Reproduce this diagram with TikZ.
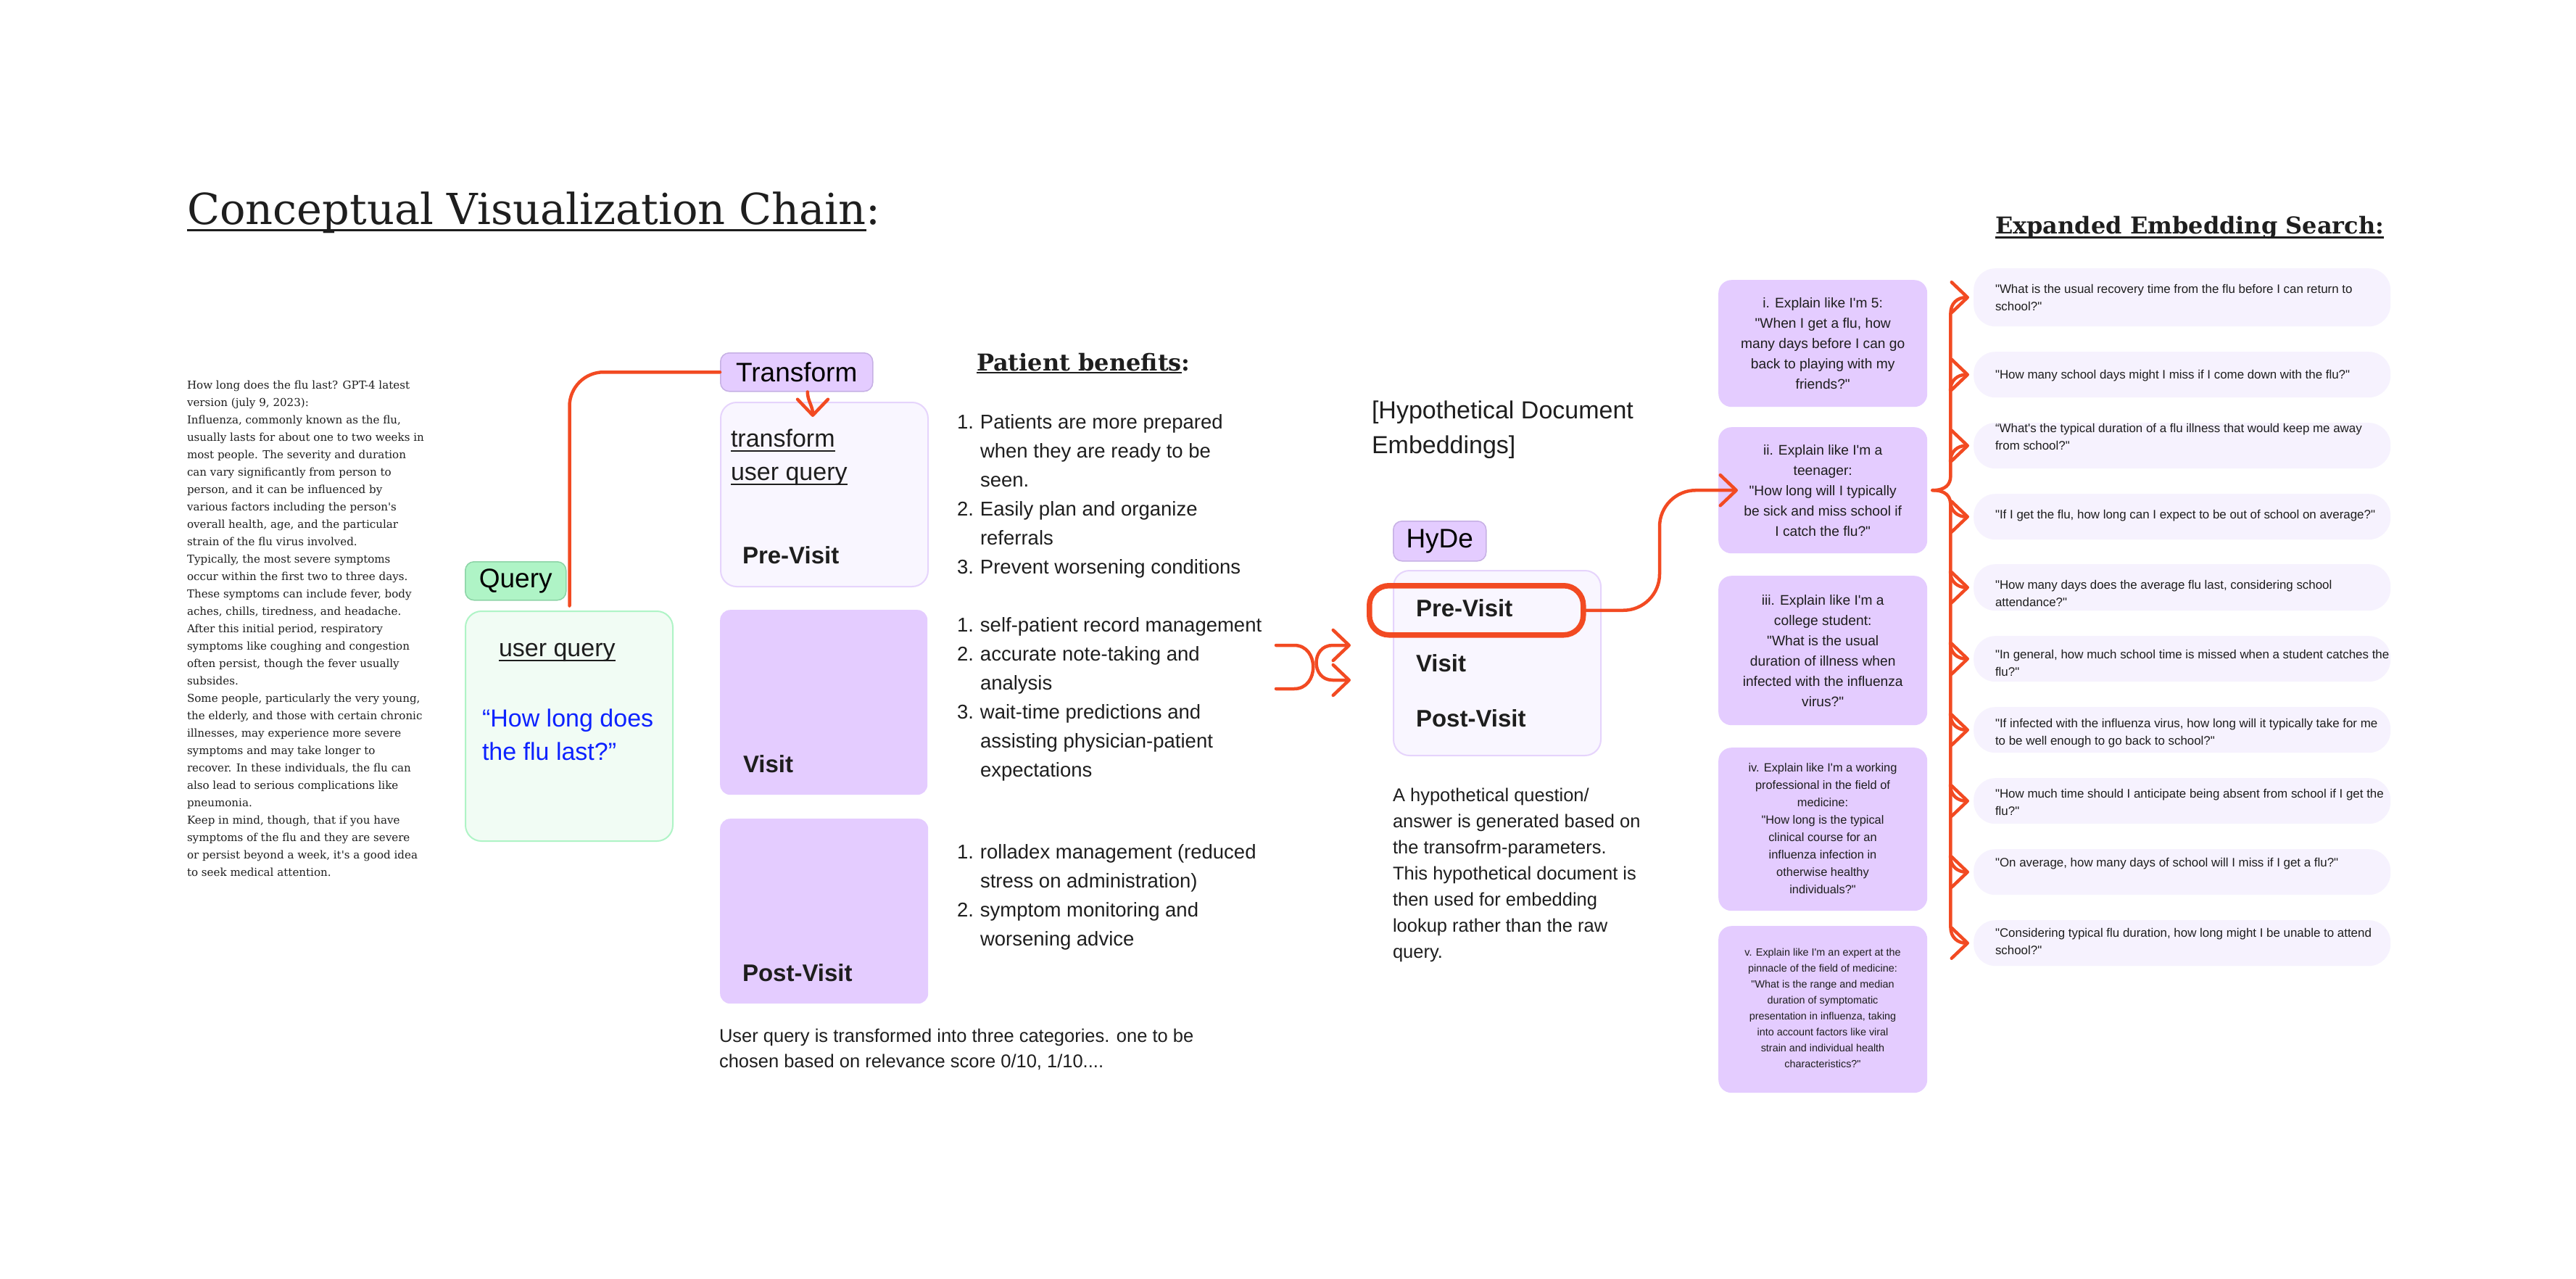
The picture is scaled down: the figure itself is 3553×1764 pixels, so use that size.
\documentclass[tikz,border=0pt]{standalone}
\usepackage{fontspec}
\setmainfont{DejaVu Serif}[Ligatures=TeXOff]
\setsansfont{Liberation Sans}[Ligatures=TeXOff]
\usetikzlibrary{arrows.meta}
\definecolor{ink}{RGB}{30,30,30}
\definecolor{org}{RGB}{242,74,34}
\definecolor{vio}{RGB}{228,204,255}
\definecolor{viob}{RGB}{198,176,228}
\definecolor{pale}{RGB}{249,246,255}
\definecolor{paleb}{RGB}{230,212,252}
\definecolor{rbox}{RGB}{246,242,254}
\definecolor{grn}{RGB}{175,244,198}
\definecolor{grnb}{RGB}{140,212,166}
\definecolor{grnpale}{RGB}{241,252,244}
\definecolor{blu}{RGB}{13,34,255}
\newcommand\ulin[3]{\leavevmode\setbox0\hbox{#3}\rlap{\vrule width\wd0 height -#1 depth \dimexpr#1+#2\relax}\box0}
\newcommand\nb[1]{\makebox[32pt][l]{#1}}
\begin{document}
\begin{tikzpicture}[x=1pt,y=-1pt,
  >={Straight Barb[length=22pt,width=42pt,round]},
  tx/.style={inner sep=0pt, outer sep=0pt, text=ink},
  fs/.style 2 args={font=\sffamily\fontsize{#1}{#2}\selectfont},
  fb/.style 2 args={font=\sffamily\bfseries\fontsize{#1}{#2}\selectfont},
  conn/.style={draw=org, line width=4.5pt, line cap=round, line join=round},
  vtag/.style={draw=viob, fill=vio, line width=1.5pt, rounded corners=12pt, inner sep=0pt, text=black, fs={37}{44}, anchor=north west},
  qtag/.style={draw=grnb, fill=grn, line width=1.5pt, rounded corners=12pt, inner sep=0pt, text=black, fs={37}{44}, anchor=north west},
  qbox/.style={draw=grn, fill=grnpale, line width=2pt, rounded corners=22pt, inner sep=0pt, anchor=north west},
  pbox/.style={draw=paleb, fill=pale, line width=2pt, rounded corners=22pt, inner sep=0pt, anchor=north west},
  vbox/.style={fill=vio, rounded corners=14pt, inner sep=0pt, anchor=north west},
  ebox/.style={fill=vio, rounded corners=18pt, inner sep=0pt, anchor=north west, minimum width=288pt},
  rbx/.style={fill=rbox, rounded corners=30pt, inner sep=0pt, anchor=north west, minimum width=575pt},
  hl/.style={draw=org, line width=7.5pt, rounded corners=27pt, inner sep=0pt, anchor=north west},
]
\useasboundingbox[fill=white] (0,0) rectangle (3553,1764);

% ---------- title ----------
\node[tx, font=\rmfamily\fontsize{59}{70}\selectfont, anchor=base west] (title) at (258,309)
  {\ulin{7pt}{3pt}{Conceptual Visualization Chain}:};

% ---------- GPT-4 answer (anchored at the baseline of its last line) ----------
\node[tx, font=\rmfamily\fontsize{15.1}{24}\selectfont, align=left, anchor=base west] (gpt) at (258,1208) {%
How long does the flu last? GPT-4 latest\\
version (july 9, 2023):\\
Influenza, commonly known as the flu,\\
usually lasts for about one to two weeks in\\
most people. The severity and duration\\
can vary significantly from person to\\
person, and it can be influenced by\\
various factors including the person's\\
overall health, age, and the particular\\
strain of the flu virus involved.\\
Typically, the most severe symptoms\\
occur within the first two to three days.\\
These symptoms can include fever, body\\
aches, chills, tiredness, and headache.\\
After this initial period, respiratory\\
symptoms like coughing and congestion\\
often persist, though the fever usually\\
subsides.\\
Some people, particularly the very young,\\
the elderly, and those with certain chronic\\
illnesses, may experience more severe\\
symptoms and may take longer to\\
recover. In these individuals, the flu can\\
also lead to serious complications like\\
pneumonia.\\
Keep in mind, though, that if you have\\
symptoms of the flu and they are severe\\
or persist beyond a week, it's a good idea\\
to seek medical attention.};

% ---------- Query ----------
\node[qtag, minimum width=139pt, minimum height=53pt] (qtag) at (641,774) {Query};
\node[qbox, minimum width=286pt, minimum height=317pt] (qbox) at (641,842) {};
\node[tx, fs={34}{46}, anchor=base west] (uq) at (688,905) {\ulin{5pt}{2pt}{user query}};
\node[tx, fs={34}{46}, text=blu, align=left, anchor=base west] (hq) at (665,1048) {“How long does\\the flu last?”};

% ---------- Transform column ----------
\node[vtag, minimum width=210pt, minimum height=53pt] (tr) at (993,486) {Transform};
\node[pbox, minimum width=286pt, minimum height=254pt] (pre) at (993,554) {};
\node[vbox, minimum width=286pt, minimum height=255pt] (vis) at (993,841) {};
\node[vbox, minimum width=287pt, minimum height=255pt] (post) at (993,1129) {};
\node[tx, fs={34}{46}, anchor=base west] (tq1) at (1008,616) {\ulin{5pt}{2pt}{transform}};
\node[tx, fs={34}{46}, anchor=base west] (tq2) at (1008,662) {\ulin{5pt}{2pt}{user query}};
\node[tx, fb={33}{40}, anchor=base west] (prel) at (1024,777) {Pre-Visit};
\node[tx, fb={33}{40}, anchor=base west] (visl) at (1025,1065) {Visit};
\node[tx, fb={33}{40}, anchor=base west] (postl) at (1024,1353) {Post-Visit};
\node[tx, fs={25.5}{35}, align=left, anchor=base west] (cap) at (992,1472)
  {User query is transformed into three categories. one to be\\chosen based on relevance score 0/10, 1/10....};

% ---------- Patient benefits ----------
\node[tx, font=\rmfamily\bfseries\fontsize{32}{38}\selectfont, anchor=base west] (pb) at (1347,511)
  {\ulin{1.5pt}{2pt}{Patient benefits}:};
\node[tx, fs={27.5}{40}, align=left, anchor=base west] (l1) at (1320,791)
  {\nb{1.}Patients are more prepared\\\nb{}when they are ready to be\\\nb{}seen.\\\nb{2.}Easily plan and organize\\\nb{}referrals\\\nb{3.}Prevent worsening conditions};
\node[tx, fs={27.5}{40}, align=left, anchor=base west] (l2) at (1320,1071)
  {\nb{1.}self-patient record management\\\nb{2.}accurate note-taking and\\\nb{}analysis\\\nb{3.}wait-time predictions and\\\nb{}assisting physician-patient\\\nb{}expectations};
\node[tx, fs={27.5}{40}, align=left, anchor=base west] (l3) at (1320,1304)
  {\nb{1.}rolladex management (reduced\\\nb{}stress on administration)\\\nb{2.}symptom monitoring and\\\nb{}worsening advice};

% ---------- shuffle icon ----------
\draw[conn] (1760,890) -- (1785,890) .. controls (1820,890) and (1820,950) .. (1785,950) -- (1760,950);
\draw[conn,<->] (1863,938) -- (1838,938) .. controls (1808,938) and (1808,890) .. (1838,890) -- (1863,890);

% ---------- HyDe ----------
\node[tx, fs={34}{48}, align=left, anchor=base west] (hdoc) at (1892,625) {[Hypothetical Document\\Embeddings]};
\node[vtag, minimum width=128pt, minimum height=55pt] (htag) at (1921,718) {HyDe};
\node[pbox, minimum width=286pt, minimum height=255pt] (hyde) at (1921,786) {};
\node[tx, fb={33}{40}, anchor=base west] (hpre) at (1953,850) {Pre-Visit};
\node[tx, fb={33}{40}, anchor=base west] (hvis) at (1953,926) {Visit};
\node[tx, fb={33}{40}, anchor=base west] (hpost) at (1953,1002) {Post-Visit};
\node[hl, minimum width=295pt, minimum height=68pt] (hl) at (1885,804) {};
\node[tx, fs={25.5}{36}, align=left, anchor=base west] (hdesc) at (1921,1321)
  {A hypothetical question/\\answer is generated based on\\the transofrm-parameters.\\This hypothetical document is\\then used for embedding\\lookup rather than the raw\\query.};

% ---------- Explain-like boxes ----------
\node[ebox, minimum height=175pt] (bi) at (2370,386) {};
\node[ebox, minimum height=174pt] (bii) at (2370,589) {};
\node[ebox, minimum height=206pt] (biii) at (2370,794) {};
\node[ebox, minimum height=225pt] (biv) at (2370,1031) {};
\node[ebox, minimum height=230pt] (bv) at (2370,1277) {};
\node[tx, fs={19.2}{28}, align=center] (ti) at (bi.center)
  {i. Explain like I'm 5:\\"When I get a flu, how\\many days before I can go\\back to playing with my\\friends?"};
\node[tx, fs={19.2}{28}, align=center] (tii) at (bii.center)
  {ii. Explain like I'm a\\teenager:\\"How long will I typically\\be sick and miss school if\\I catch the flu?"};
\node[tx, fs={19.2}{28}, align=center] (tiii) at (biii.center)
  {iii. Explain like I'm a\\college student:\\"What is the usual\\duration of illness when\\infected with the influenza\\virus?"};
\node[tx, fs={16.4}{24}, align=center] (tiv) at (2514,1143)
  {iv. Explain like I'm a working\\professional in the field of\\medicine:\\"How long is the typical\\clinical course for an\\influenza infection in\\otherwise healthy\\individuals?"};
\node[tx, fs={14.4}{22}, align=center] (tv) at (2514,1390)
  {v. Explain like I'm an expert at the\\pinnacle of the field of medicine:\\"What is the range and median\\duration of symptomatic\\presentation in influenza, taking\\into account factors like viral\\strain and individual health\\characteristics?"};

% ---------- Expanded embedding search ----------
\node[tx, font=\rmfamily\bfseries\fontsize{32}{38}\selectfont, anchor=base west] (ees) at (2752,322)
  {\ulin{4pt}{2.5pt}{Expanded Embedding Search:}};
\node[rbx, minimum height=80pt] (r1) at (2722,370) {};
\node[rbx, minimum height=63pt] (r2) at (2722,485) {};
\node[rbx, minimum height=63pt] (r3) at (2722,583) {};
\node[rbx, minimum height=63pt] (r4) at (2722,681) {};
\node[rbx, minimum height=64pt] (r5) at (2722,778) {};
\node[rbx, minimum height=63pt] (r6) at (2722,877) {};
\node[rbx, minimum height=63pt] (r7) at (2722,975) {};
\node[rbx, minimum height=63pt] (r8) at (2722,1073) {};
\node[rbx, minimum height=63pt] (r9) at (2722,1171) {};
\node[rbx, minimum height=63pt] (r10) at (2722,1269) {};
\tikzset{rt/.style={tx, fs={16.9}{24}, align=left, anchor=west}}
\node[rt] (t1) at (2752,410.5) {"What is the usual recovery time from the flu before I can return to\\school?"};
\node[rt] (t2) at (2752,518) {"How many school days might I miss if I come down with the flu?"};
\node[rt] (t3) at (2752,602.5) {“What's the typical duration of a flu illness that would keep me away\\from school?"};
\node[rt] (t4) at (2752,711) {"If I get the flu, how long can I expect to be out of school on average?"};
\node[rt] (t5) at (2752,818) {"How many days does the average flu last, considering school\\attendance?"};
\node[rt] (t6) at (2752,914) {"In general, how much school time is missed when a student catches the\\flu?"};
\node[rt] (t7) at (2752,1011) {"If infected with the influenza virus, how long will it typically take for me\\to be well enough to go back to school?"};
\node[rt] (t8) at (2752,1106.5) {"How much time should I anticipate being absent from school if I get the\\flu?"};
\node[rt] (t9) at (2752,1191) {"On average, how many days of school will I miss if I get a flu?"};
\node[rt] (t10) at (2752,1298) {"Considering typical flu duration, how long might I be unable to attend\\school?"};

% ---------- connectors ----------
\coordinate (qs) at ([shift={(4pt,-7pt)}]qtag.south east);
\draw[conn, rounded corners=47pt] (qs) |- (tr.west);
\coordinate (pretip) at ([shift={(-16pt,-21pt)}]pre.north);
\draw[conn,->] ([xshift=15pt]tr.south) .. controls +(0,12) and +(0,-15) .. (pretip);
\coordinate (iitip) at ([xshift=27pt]bii.west);
\draw[conn, rounded corners=50pt, ->] (hl.east) -| ([xshift=-108pt]iitip) -- (iitip);

% brace
\coordinate (bt) at ([xshift=7pt]bii.east);
\coordinate (bu) at ([shift={(25pt,20pt)}]bt);
\coordinate (bd) at ([shift={(25pt,-20pt)}]bt);
\coordinate (r1a) at ([yshift=-22pt]r1.west);
\coordinate (r10a) at ([yshift=22pt]r10.west);
\draw[conn,->] (bt) .. controls +(18,0) and +(0,12) .. (bu) -- (bu |- r1a)
   .. controls +(0,-14) and +(-16,0) .. ([xshift=-6pt]r1.west);
\draw[conn,->] (bt) .. controls +(18,0) and +(0,-12) .. (bd) -- (bd |- r10a)
   .. controls +(0,14) and +(-16,0) .. ([xshift=-6pt]r10.west);
\foreach \r in {r2,r3}{
  \draw[conn,->] ([shift={(-32pt,-22pt)}]\r.west) .. controls +(0,-14) and +(-16,0) .. ([xshift=-6pt]\r.west);
}
\foreach \r in {r4,r5,r6,r7,r8,r9}{
  \draw[conn,->] ([shift={(-32pt,22pt)}]\r.west) .. controls +(0,14) and +(-16,0) .. ([xshift=-6pt]\r.west);
}
\end{tikzpicture}
\end{document}
